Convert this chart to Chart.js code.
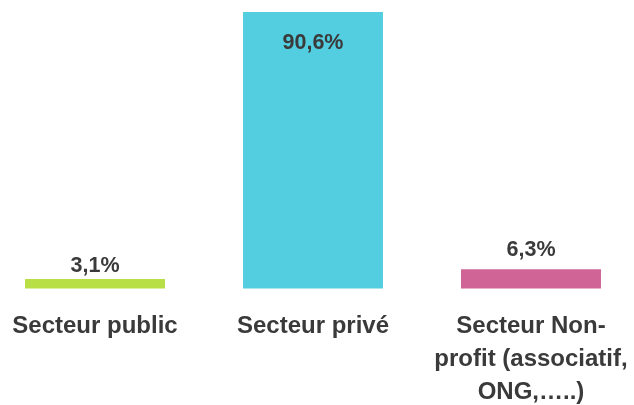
<!DOCTYPE html>
<html lang="fr">
  <head>
    <meta charset="UTF-8" />
    <title>Secteurs</title>
    <style>
      html, body {
        margin: 0;
        padding: 0;
        background: #ffffff;
      }
      .container {
        width: 634px;
        height: 405px;
      }
    </style>
  </head>
  <body>
    <div class="container">
      <canvas id="myChart"></canvas>
    </div>

    <script src="https://cdn.jsdelivr.net/npm/chart.js"></script>
    <script>
      const categories = [
        "Secteur public",
        "Secteur privé",
        ["Secteur Non-", "profit (associatif,", "ONG,…..)"],
      ];
      const values = [3.1, 90.6, 6.3];
      const valueLabels = ["3,1%", "90,6%", "6,3%"];
      const barColors = ["#b8e046", "#52cee0", "#d06496"];

      // étiquettes de valeur : au-dessus des petites barres, dans la grande
      const labelShift = [-7, 37, -13];
      const valueLabelPlugin = {
        id: "valueLabels",
        afterDatasetsDraw(chart) {
          const ctx = chart.ctx;
          const meta = chart.getDatasetMeta(0);
          ctx.save();
          ctx.font = "bold 21.5px 'Liberation Sans', Arial, sans-serif";
          ctx.fillStyle = "#3a3a3a";
          ctx.textAlign = "center";
          ctx.textBaseline = "alphabetic";
          meta.data.forEach((bar, i) => {
            ctx.fillText(valueLabels[i], bar.x, bar.y + labelShift[i]);
          });
          ctx.restore();
        },
      };

      const config = {
        type: "bar",
        data: {
          labels: categories,
          datasets: [
            {
              data: values,
              backgroundColor: barColors,
              categoryPercentage: 1,
              barPercentage: 0.642,
              clip: false,
            },
          ],
        },
        options: {
          responsive: true,
          maintainAspectRatio: false,
          animation: false,
          layout: {
            padding: { left: 95, right: 103, top: 12, bottom: 0 },
          },
          plugins: {
            legend: { display: false },
            tooltip: { enabled: false },
          },
          scales: {
            x: {
              offset: false,
              grid: { display: false, drawTicks: false },
              border: { display: false },
              afterFit: (scale) => {
                scale.height = 116.5;
                scale.paddingLeft = 0;
                scale.paddingRight = 0;
              },
              ticks: {
                autoSkip: false,
                maxRotation: 0,
                padding: 21,
                color: "#3a3a3a",
                font: {
                  family: "'Liberation Sans', Arial, sans-serif",
                  size: 24,
                  weight: "bold",
                  lineHeight: 1.375,
                },
              },
            },
            y: {
              display: false,
              min: 0,
              max: 90.6,
            },
          },
        },
        plugins: [valueLabelPlugin],
      };

      new Chart(document.getElementById("myChart"), config);
    </script>
  </body>
</html>
